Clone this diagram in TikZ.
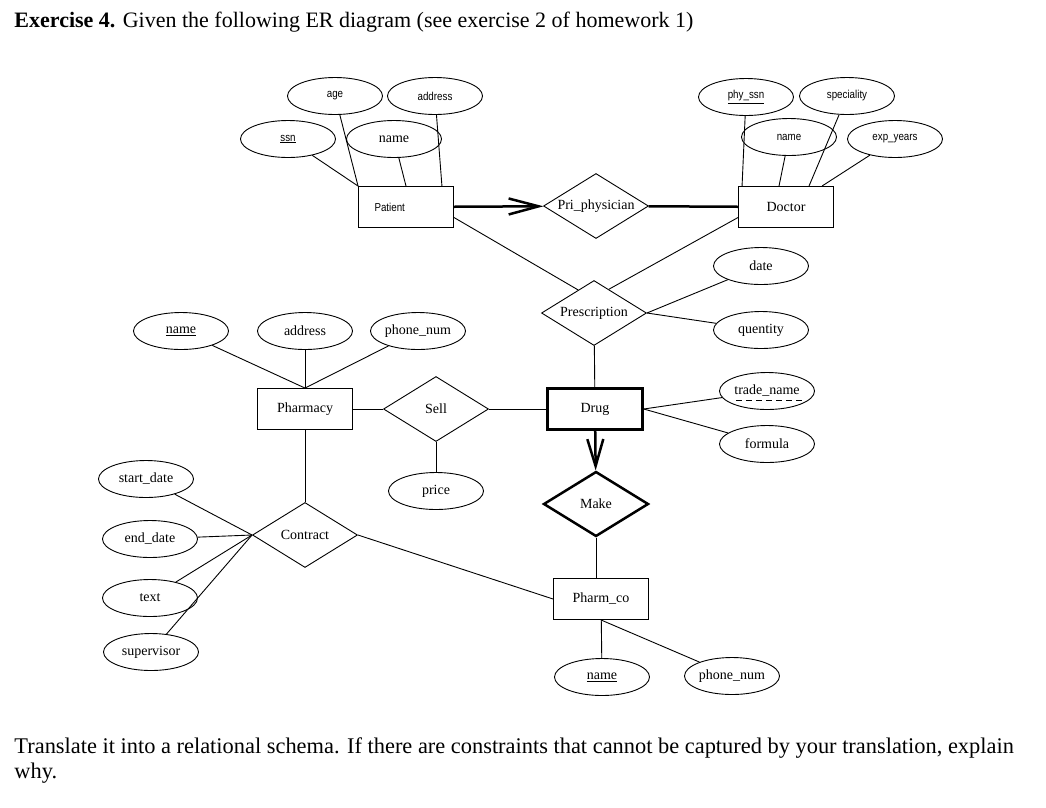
\documentclass[tikz,border=0pt]{standalone}
\usepackage{fontspec}
\setmainfont{Liberation Serif}
\setsansfont{Liberation Sans}
\newfontfamily\narrowsans[FakeStretch=0.85]{Liberation Sans}
\usetikzlibrary{shapes.geometric,arrows.meta,calc}

\newcommand{\ctext}[1]{\makebox[0pt]{#1}}

\begin{document}
\begin{tikzpicture}[x=1pt,y=-1pt,line width=0.9pt,
  entity/.style={draw, rectangle, minimum width=95pt, minimum height=41pt, inner sep=0pt, font=\fontsize{14}{16}\selectfont},
  attr/.style={draw, ellipse, minimum width=95pt, minimum height=37pt, inner sep=0pt, font=\fontsize{14}{16}\selectfont},
  rel/.style={draw, diamond, minimum width=105pt, minimum height=65pt, inner sep=0pt, font=\fontsize{14}{16}\selectfont},
  sans/.style={font=\narrowsans\fontsize{11.5}{13}\selectfont},
  strong/.style={line width=2.5pt}]

\useasboundingbox (0,0) rectangle (1046,807);

\node[anchor=base west, inner sep=0pt, font=\fontsize{22}{26}\selectfont] (title) at (14,27) {\textbf{Exercise 4.} Given the following ER diagram (see exercise 2 of homework 1)};

% Patient
\node[entity, sans, align=left, text width=63pt] (patient) at (406,207) {Patient};
\node[attr, sans] (pssn) at (288,139) {\ctext{\underline{ssn}}};
\node[attr, sans] (page) at (335,96) {\ctext{age}};
\node[attr] (pname) at (394,139) {\ctext{name}};
\node[attr, sans] (paddr) at (435,96) {\ctext{address}};

\draw (pssn) -- (patient.north west);
\draw (page) -- (patient.north west);
\draw (pname) -- (patient.north);
\draw (paddr) -- ([xshift=-12pt]patient.north east);

% Doctor
\node[entity] (doctor) at (786,207) {Doctor};
\node[attr, sans] (dssn) at (746,97) {\ctext{\underline{phy\_ssn}}};
\node[attr, sans] (dspec) at (847,96) {\ctext{speciality}};
\node[attr, sans] (dname) at (789,137) {\ctext{name}};
\node[attr, sans] (dyears) at (895,139) {\ctext{exp\_years}};

\draw (dssn) -- ([xshift=4pt]doctor.north west);
\draw (dname) -- ([xshift=-7pt]doctor.north);
\draw (dspec) -- ([xshift=23pt]doctor.north);
\draw (dyears) -- ([xshift=36pt]doctor.north);

\node[rel] (pri) at (596,206) {\ctext{Pri\_physician}};
\draw[strong, -{Straight Barb[length=30pt,width=16pt]}] (patient) -- (pri);
\draw[strong] (pri) -- (doctor);

% Prescription
\node[rel] (presc) at (594,313) {\ctext{Prescription}};
\node[attr] (date) at (761,266) {\ctext{date}};
\node[attr] (qty) at (761,330) {\ctext{quentity}};

\draw ($(patient.east)!0.5!(patient.south east)$) -- ($(presc.north)!0.3!(presc.west)$);
\draw ($(doctor.west)!0.5!(doctor.south west)$) -- ($(presc.north)!0.28!(presc.east)$);
\draw (presc.east) -- (date);
\draw (presc.east) -- (qty);

% Drug
\node[entity, strong] (drug) at (595,409) {Drug};
\node[attr] (tname) at (767,391) {\ctext{trade\_name}};
\node[attr] (formula) at (767,444) {\ctext{formula}};
\draw[dash pattern=on 6pt off 4pt, line width=0.8pt] ([shift={(-31,9)}]tname.center) -- ([shift={(36,9)}]tname.center);

\draw (presc) -- (drug);
\draw (drug.east) -- (tname);
\draw (drug.east) -- (formula);

\node[rel, strong] (make) at (596,504) {\ctext{Make}};
\draw[strong, -{Straight Barb[length=27pt,width=16pt]}] (drug) -- (make);

% Pharm_co
\node[entity] (pharmco) at (601,599) {Pharm\_co};
\node[attr] (coname) at (602,677) {\ctext{\underline{name}}};
\node[attr] (cophone) at (732,676) {\ctext{phone\_num}};

\draw (make.south) -- (make.south |- pharmco.north);
\draw (pharmco) -- (coname);
\draw (pharmco.south) -- (cophone);

% Pharmacy
\node[entity] (pharmacy) at (305,409) {Pharmacy};
\node[attr] (phname) at (181,331) {\ctext{\underline{name}}};
\node[attr] (phaddr) at (305,331) {\ctext{address}};
\node[attr] (phphone) at (418,331) {\ctext{phone\_num}};

\draw (phname) -- (pharmacy.north);
\draw (phaddr) -- (pharmacy.north);
\draw (phphone) -- (pharmacy.north);

\node[rel] (sell) at (436,409) {\ctext{Sell}};
\node[attr] (price) at (436,491) {\ctext{price}};

\draw (pharmacy) -- (sell);
\draw (sell) -- (drug);
\draw (sell) -- (price);

% Contract
\node[rel] (contract) at (305,535) {\ctext{Contract}};
\node[attr] (start) at (146,479) {\ctext{start\_date}};
\node[attr] (endd) at (150,539) {\ctext{end\_date}};
\node[attr] (ctext) at (150,598) {\ctext{text}};
\node[attr] (superv) at (151,652) {\ctext{supervisor}};

\draw (pharmacy) -- (contract);
\draw (contract.east) -- (pharmco.west);
\draw (start) -- (contract.west);
\draw (endd) -- (contract.west);
\draw (ctext) -- (contract.west);
\draw (superv) -- (contract.west);

\node[anchor=base west, inner sep=0pt, font=\fontsize{22.4}{26}\selectfont] (task) at (14,753) {Translate it into a relational schema. If there are constraints that cannot be captured by your translation, explain};
\node[anchor=base west, inner sep=0pt, font=\fontsize{22.4}{26}\selectfont] (task2) at (14,778) {why.};
\end{tikzpicture}
\end{document}
